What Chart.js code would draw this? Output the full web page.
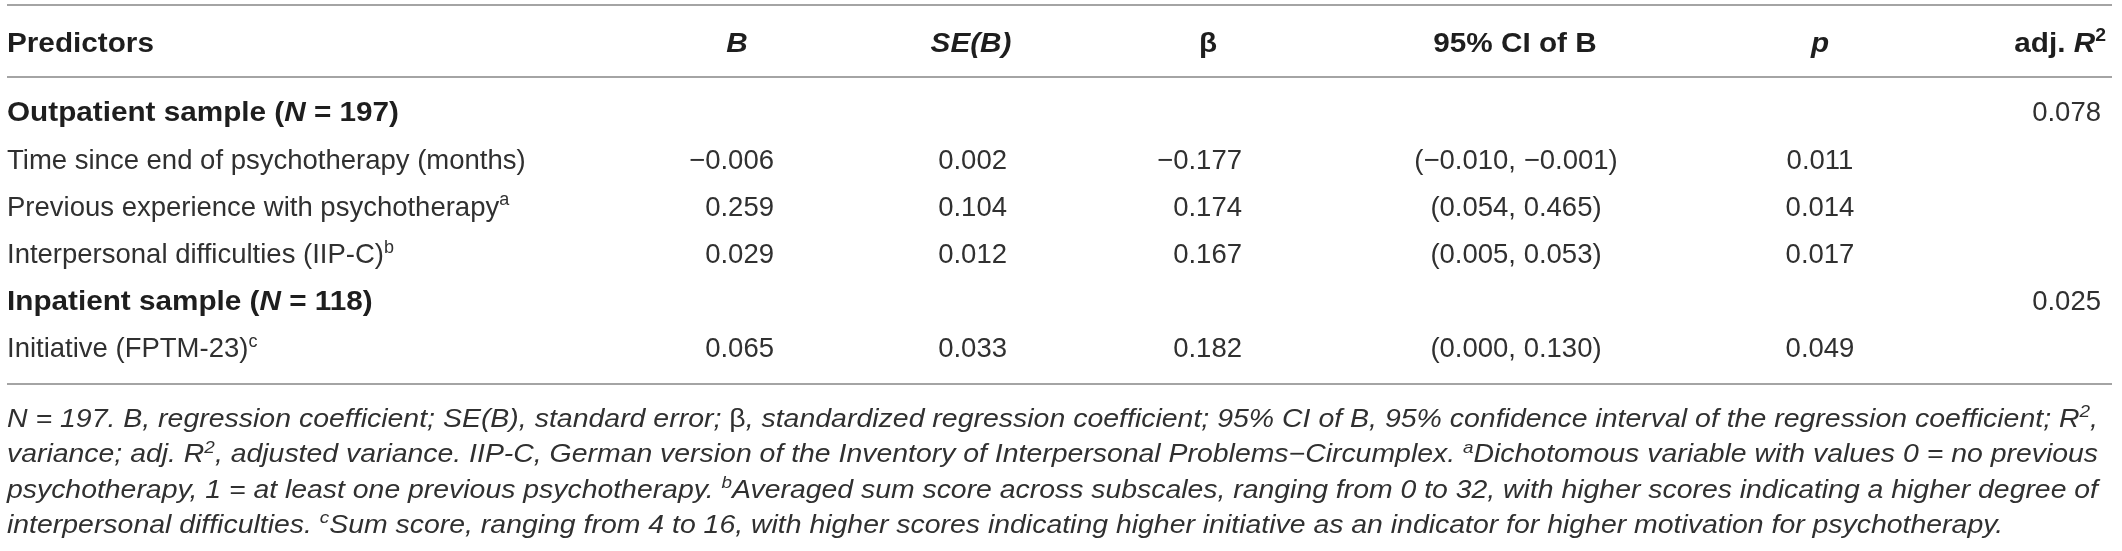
<!DOCTYPE html>
<html>
<head>
<meta charset="utf-8">
<script src="https://cdn.jsdelivr.net/npm/chart.js@4.4.1/dist/chart.umd.min.js"></script>
<style>
html, body { margin: 0; padding: 0; background: #fff; }
#wrap { width: 2122px; height: 551px; }
</style>
</head>
<body>
<div id="wrap"><canvas id="table-chart" width="2122" height="551"></canvas></div>
<script>
// table values
const groups = ['Outpatient sample', 'Inpatient sample']
const groupN = [197, 118]
const groupAdjR2 = [0.078, 0.025]

const predictors = [
    'Time since end of psychotherapy (months)',
    'Previous experience with psychotherapy',
    'Interpersonal difficulties (IIP-C)',
    'Initiative (FPTM-23)'
]
const predictorNotes = ['', 'a', 'b', 'c']
const predictorGroup = [0, 0, 0, 1]
const coefB = [-0.006, 0.259, 0.029, 0.065]
const seB = [0.002, 0.104, 0.012, 0.033]
const beta = [-0.177, 0.174, 0.167, 0.182]
const ciLow = [-0.010, 0.054, 0.005, 0.000]
const ciHigh = [-0.001, 0.465, 0.053, 0.130]
const pValues = [0.011, 0.014, 0.017, 0.049]

// footnote lines as text runs (s = superscript, up = upright)
const footnotes = [
    [{t: 'N = 197. B, regression coefficient; SE(B), standard error; '}, {t: '\u03b2', up: true}, {t: ', standardized regression coefficient; 95% CI of B, 95% confidence interval of the regression coefficient; R'}, {t: '2', s: true}, {t: ','}],
    [{t: 'variance; adj. R'}, {t: '2', s: true}, {t: ', adjusted variance. IIP-C, German version of the Inventory of Interpersonal Problems\u2212Circumplex. '}, {t: 'a', s: true}, {t: 'Dichotomous variable with values 0 = no previous'}],
    [{t: 'psychotherapy, 1 = at least one previous psychotherapy. '}, {t: 'b', s: true}, {t: 'Averaged sum score across subscales, ranging from 0 to 32, with higher scores indicating a higher degree of'}],
    [{t: 'interpersonal difficulties. '}, {t: 'c', s: true}, {t: 'Sum score, ranging from 4 to 16, with higher scores indicating higher initiative as an indicator for higher motivation for psychotherapy.'}]
]

const FONT = "'Liberation Sans', Arial, sans-serif"
const TEXT = '#303030'
const HEAD = '#1e1e1e'
const RULE = '#a4a4a4'
const SIZE = 27.5
const BOLD_STRETCH = 1.08

function num(v)
{
    return (v < 0 ? '\u2212' : '') + Math.abs(v).toFixed(3)
}

// rows in display order: group line, then its predictors
const rowKeys = []
const rowKind = []
const rowRef = []
groups.forEach(function (g, gi) {
    rowKeys.push(g)
    rowKind.push('group')
    rowRef.push(gi)
    predictors.forEach(function (p, pi) {
        if (predictorGroup[pi] === gi) {
            rowKeys.push(p)
            rowKind.push('pred')
            rowRef.push(pi)
        }
    })
})

// column anchors on the x scale and how the cell text sits on them
const columns = [
    { head: [{t: 'Predictors', b: true}], hx: 7, halign: 'left' },
    { head: [{t: 'B', b: true, i: true}], hx: 737, halign: 'center', vx: 774, valign: 'right', cell: function (i) { return num(coefB[i]) } },
    { head: [{t: 'SE(B)', b: true, i: true}], hx: 971, halign: 'center', vx: 1007, valign: 'right', cell: function (i) { return num(seB[i]) } },
    { head: [{t: '\u03b2', b: true}], hx: 1208, halign: 'center', vx: 1242, valign: 'right', cell: function (i) { return num(beta[i]) } },
    { head: [{t: '95% CI of B', b: true}], hx: 1515, halign: 'center', vx: 1516, valign: 'center', cell: function (i) { return '(' + num(ciLow[i]) + ', ' + num(ciHigh[i]) + ')' } },
    { head: [{t: 'p', b: true, i: true}], hx: 1820, halign: 'center', vx: 1820, valign: 'center', cell: function (i) { return num(pValues[i]) } },
    { head: [{t: 'adj. ', b: true}, {t: 'R', b: true, i: true}, {t: '2', b: true, s: true}], hx: 2106, halign: 'right', vx: 2101, valign: 'right' }
]

function fontOf(r, size, baseItalic)
{
    const it = (r.i || baseItalic) && !r.up
    return (it ? 'italic ' : '') + (r.b ? 'bold ' : '') + (r.s ? Math.round(size * 0.65) : size) + 'px ' + FONT
}

function runWidth(ctx, r, size, baseItalic)
{
    ctx.font = fontOf(r, size, baseItalic)
    return ctx.measureText(r.t).width * (r.b ? BOLD_STRETCH : 1)
}

function runsWidth(ctx, runs, size, baseItalic)
{
    let w = 0
    runs.forEach(function (r) { w += runWidth(ctx, r, size, baseItalic) })
    return w
}

function drawRuns(ctx, runs, x, y, align, size, color, baseItalic, sx)
{
    sx = sx || 1
    const w = runsWidth(ctx, runs, size, baseItalic) * sx
    let cx = x
    if (align === 'center') cx = x - w / 2
    if (align === 'right') cx = x - w
    ctx.save()
    ctx.fillStyle = color
    ctx.textAlign = 'left'
    ctx.textBaseline = 'alphabetic'
    ctx.translate(cx, y)
    ctx.scale(sx, 1)
    let px = 0
    runs.forEach(function (r) {
        const k = r.b ? BOLD_STRETCH : 1
        ctx.save()
        ctx.translate(px, r.s ? -size * 0.38 : 0)
        ctx.scale(k, 1)
        ctx.font = fontOf(r, size, baseItalic)
        ctx.fillText(r.t, 0, 0)
        ctx.restore()
        px += runWidth(ctx, r, size, baseItalic)
    })
    ctx.restore()
}

function rule(ctx, x1, x2, y)
{
    ctx.save()
    ctx.strokeStyle = RULE
    ctx.lineWidth = 2
    ctx.beginPath()
    ctx.moveTo(x1, y)
    ctx.lineTo(x2, y)
    ctx.stroke()
    ctx.restore()
}

const tablePlugin = {
    id: 'tablePlugin',
    afterDraw: function (chart) {
        const ctx = chart.ctx
        const xs = chart.scales.x
        const ys = chart.scales.y
        const left = xs.getPixelForValue(7)
        const right = xs.getPixelForValue(2112)
        const base = SIZE * 0.36

        rule(ctx, left, right, 5)
        rule(ctx, left, right, 77)

        columns.forEach(function (c) {
            drawRuns(ctx, c.head, xs.getPixelForValue(c.hx), 42 + base, c.halign, SIZE, HEAD, false)
        })

        rowKeys.forEach(function (key, ri) {
            const y = ys.getPixelForValue(ri) + base
            if (rowKind[ri] === 'group') {
                const gi = rowRef[ri]
                drawRuns(ctx, [{t: groups[gi] + ' (', b: true}, {t: 'N', b: true, i: true}, {t: ' = ' + groupN[gi] + ')', b: true}],
                    left, y, 'left', SIZE, HEAD, false)
                const last = columns[columns.length - 1]
                drawRuns(ctx, [{t: num(groupAdjR2[gi])}], xs.getPixelForValue(last.vx), y, 'right', SIZE, TEXT, false)
                return
            }
            const pi = rowRef[ri]
            const label = [{t: predictors[pi]}]
            if (predictorNotes[pi]) label.push({t: predictorNotes[pi], s: true})
            drawRuns(ctx, label, left, y, 'left', SIZE, TEXT, false)
            columns.forEach(function (c) {
                if (!c.cell) return
                drawRuns(ctx, [{t: c.cell(pi)}], xs.getPixelForValue(c.vx), y, c.valign, SIZE, TEXT, false)
            })
        })

        rule(ctx, left, right, 384)

        // justified footnote block
        const fsize = 25.5
        const target = xs.getPixelForValue(2098) - left
        const scales = footnotes.map(function (f) { return target / runsWidth(ctx, f, fsize, true) })
        const avg = (scales[0] + scales[1] + scales[2]) / 3
        footnotes.forEach(function (f, i) {
            drawRuns(ctx, f, left, 418 + i * 35.3 + fsize * 0.36, 'left', fsize, TEXT, true, i < 3 ? scales[i] : avg)
        })
    }
}

new Chart('table-chart', {
    type: 'scatter',
    data: {
        labels: rowKeys,
        datasets: [{ data: [], pointRadius: 0 }]
    },
    options: {
        responsive: false,
        animation: false,
        devicePixelRatio: 1,
        layout: { padding: { top: 88, bottom: 180, left: 0, right: 0 } },
        plugins: {
            legend: { display: false },
            tooltip: { enabled: false }
        },
        scales: {
            x: { type: 'linear', min: 0, max: 2122, display: false },
            y: { type: 'category', labels: rowKeys, offset: true, display: false }
        }
    },
    plugins: [tablePlugin]
})
</script>
</body>
</html>
